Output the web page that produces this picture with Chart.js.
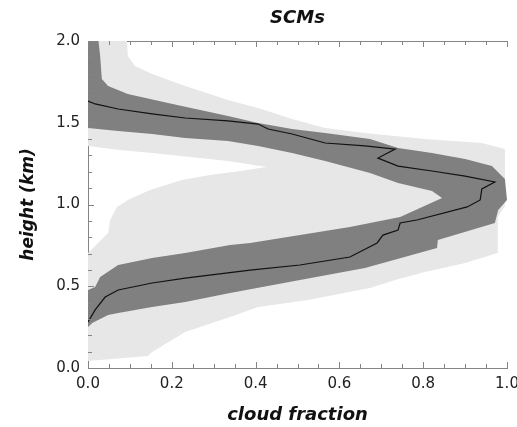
<!DOCTYPE html>
<html>
<head>
<meta charset="utf-8">
<script src="https://cdn.jsdelivr.net/npm/chart.js@4.4.1/dist/chart.umd.min.js"></script>
<style>
  html, body { margin: 0; padding: 0; background: #fff; }
  #wrap { width: 517px; height: 427px; }
</style>
</head>
<body>
<div id="wrap"><canvas id="chart"></canvas></div>
<script>
// light band (full spread), outer edge from top down, inner edge from bottom up
const lightOuterFrac   = [0.093, 0.095, 0.112, 0.153, 0.232, 0.334, 0.406, 0.487, 0.566, 0.661, 0.804, 0.94, 0.995, 0.995, 0.978, 0.978, 0.9, 0.804, 0.733, 0.673, 0.525, 0.406, 0.339, 0.232, 0.153, 0.143, 0];
const lightOuterHeight = [2.0, 1.908, 1.847, 1.798, 1.725, 1.639, 1.59, 1.523, 1.468, 1.437, 1.401, 1.376, 1.339, 0.991, 0.924, 0.703, 0.642, 0.587, 0.538, 0.489, 0.416, 0.373, 0.312, 0.22, 0.098, 0.073, 0.043];
const lightInnerFrac   = [0, 0, 0.024, 0.048, 0.053, 0.069, 0.095, 0.148, 0.224, 0.291, 0.363, 0.427, 0.334, 0.153, 0.076, 0, 0];
const lightInnerHeight = [0.043, 0.703, 0.765, 0.826, 0.905, 0.985, 1.028, 1.089, 1.15, 1.18, 1.205, 1.229, 1.266, 1.315, 1.333, 1.358, 2.0];

// dark band (central spread)
const darkOuterFrac   = [0.025, 0.029, 0.033, 0.048, 0.095, 0.191, 0.334, 0.406, 0.487, 0.566, 0.673, 0.74, 0.821, 0.9, 0.964, 0.995, 1.0, 0.979, 0.971, 0.835, 0.833, 0.661, 0.506, 0.339, 0.232, 0.153, 0.072, 0.048, 0.01, 0];
const darkOuterHeight = [2.0, 1.908, 1.768, 1.725, 1.676, 1.621, 1.541, 1.498, 1.462, 1.437, 1.401, 1.346, 1.315, 1.278, 1.235, 1.156, 1.028, 0.966, 0.887, 0.783, 0.734, 0.612, 0.538, 0.459, 0.404, 0.373, 0.336, 0.324, 0.275, 0.251];
const darkInnerFrac   = [0, 0.017, 0.029, 0.072, 0.153, 0.232, 0.339, 0.387, 0.625, 0.745, 0.845, 0.821, 0.74, 0.673, 0.566, 0.487, 0.406, 0.334, 0.232, 0.153, 0.072, 0, 0];
const darkInnerHeight = [0.477, 0.495, 0.557, 0.63, 0.673, 0.703, 0.752, 0.765, 0.862, 0.924, 1.04, 1.083, 1.131, 1.193, 1.266, 1.315, 1.358, 1.388, 1.407, 1.431, 1.45, 1.468, 2.0];

// median profile
const medianFrac   = [0, 0.017, 0.072, 0.153, 0.232, 0.334, 0.406, 0.43, 0.487, 0.566, 0.661, 0.733, 0.692, 0.74, 0.821, 0.9, 0.971, 0.94, 0.936, 0.905, 0.785, 0.745, 0.74, 0.704, 0.69, 0.625, 0.506, 0.387, 0.232, 0.153, 0.072, 0.041, 0.017, 0];
const medianHeight = [1.633, 1.615, 1.584, 1.554, 1.529, 1.511, 1.492, 1.462, 1.431, 1.376, 1.358, 1.339, 1.284, 1.235, 1.205, 1.174, 1.138, 1.095, 1.028, 0.985, 0.905, 0.887, 0.844, 0.813, 0.765, 0.679, 0.63, 0.599, 0.55, 0.52, 0.477, 0.434, 0.355, 0.281];

const xTickLabels = ["0.0", "0.2", "0.4", "0.6", "0.8", "1.0"];
const yTickLabels = ["0.0", "0.5", "1.0", "1.5", "2.0"];

const axisColor = "#858585";
const FONT = "DejaVu Sans";

function toPoints(fracs, heights) {
    return fracs.map((f, i) => ({ x: f, y: heights[i] }));
}

// closed outline: outer edge downwards, then inner edge back up
function band(outerF, outerH, innerF, innerH) {
    return toPoints(outerF, outerH).concat(toPoints(innerF, innerH));
}

// small inward tick marks, like the original plot
const innerTicks = {
    id: "innerTicks",
    afterDatasetsDraw(chart) {
        const { ctx, chartArea: a, scales } = chart;
        const x = scales.x, y = scales.y;
        ctx.save();
        ctx.strokeStyle = axisColor;
        ctx.lineWidth = 1;
        ctx.beginPath();
        for (let i = 0; i <= 20; i++) {
            const px = Math.round(x.getPixelForValue(i * 0.05)) + 0.5;
            const len = i % 4 === 0 ? 6 : 4;
            ctx.moveTo(px, a.bottom);
            ctx.lineTo(px, a.bottom - len);
            ctx.moveTo(px, a.top);
            ctx.lineTo(px, a.top + len);
        }
        for (let i = 0; i <= 20; i++) {
            const py = Math.round(y.getPixelForValue(i * 0.1)) + 0.5;
            const len = i % 5 === 0 ? 6 : 4;
            ctx.moveTo(a.left, py);
            ctx.lineTo(a.left + len, py);
        }
        ctx.stroke();
        ctx.restore();
    }
};

Chart.defaults.font.family = FONT;

new Chart(document.getElementById("chart"), {
    type: "line",
    data: {
        datasets: [
            {
                label: "median",
                data: toPoints(medianFrac, medianHeight),
                borderColor: "#111",
                borderWidth: 1.2,
                pointRadius: 0,
                fill: false,
                tension: 0,
            },
            {
                label: "dark",
                data: band(darkOuterFrac, darkOuterHeight, darkInnerFrac, darkInnerHeight),
                borderColor: "rgba(0,0,0,0)",
                borderWidth: 0,
                backgroundColor: "#808080",
                pointRadius: 0,
                fill: "shape",
                tension: 0,
            },
            {
                label: "light",
                data: band(lightOuterFrac, lightOuterHeight, lightInnerFrac, lightInnerHeight),
                borderColor: "rgba(0,0,0,0)",
                borderWidth: 0,
                backgroundColor: "#e7e7e7",
                pointRadius: 0,
                fill: "shape",
                tension: 0,
            },
        ],
    },
    options: {
        responsive: true,
        maintainAspectRatio: false,
        animation: false,
        layout: { padding: { left: 0, right: 10, top: 0, bottom: 0 } },
        plugins: {
            legend: { display: false },
            tooltip: { enabled: false },
            title: {
                display: true,
                text: "SCMs",
                fullSize: false,
                color: "#111",
                font: { size: 18, weight: "bold", style: "italic" },
                padding: { top: 8, bottom: 11.4 },
            },
        },
        scales: {
            x: {
                type: "linear",
                position: "bottom",
                min: 0,
                max: 1,
                afterFit(s) { s.height = 59; s.paddingLeft = 0; s.paddingRight = 0; },
                grid: { display: false, drawTicks: false },
                border: { display: true, color: axisColor, width: 1 },
                ticks: {
                    stepSize: 0.2,
                    padding: 7,
                    color: "#222",
                    font: { size: 15 },
                    maxRotation: 0,
                    callback: (v, i) => xTickLabels[i],
                },
                title: {
                    display: true,
                    text: "cloud fraction",
                    color: "#111",
                    font: { size: 18, weight: "bold", style: "italic" },
                    padding: { top: 0, bottom: 1 },
                },
            },
            xTop: {
                type: "linear",
                position: "top",
                min: 0,
                max: 1,
                afterFit(s) { s.height = 0; },
                grid: { display: false, drawTicks: false },
                border: { display: true, color: axisColor, width: 1 },
                ticks: { display: false },
            },
            y: {
                type: "linear",
                min: 0,
                max: 2,
                afterFit(s) { s.width = 88; s.paddingTop = 0; s.paddingBottom = 0; },
                grid: { display: false, drawTicks: false },
                border: { display: true, color: axisColor, width: 1 },
                ticks: {
                    stepSize: 0.5,
                    padding: 8,
                    color: "#222",
                    font: { size: 15 },
                    callback: (v, i) => yTickLabels[i],
                },
                title: {
                    display: true,
                    text: "height (km)",
                    color: "#111",
                    font: { size: 17, weight: "bold", style: "italic" },
                    padding: { top: 18, bottom: 0 },
                },
            },
        },
    },
    plugins: [innerTicks],
});
</script>
</body>
</html>
